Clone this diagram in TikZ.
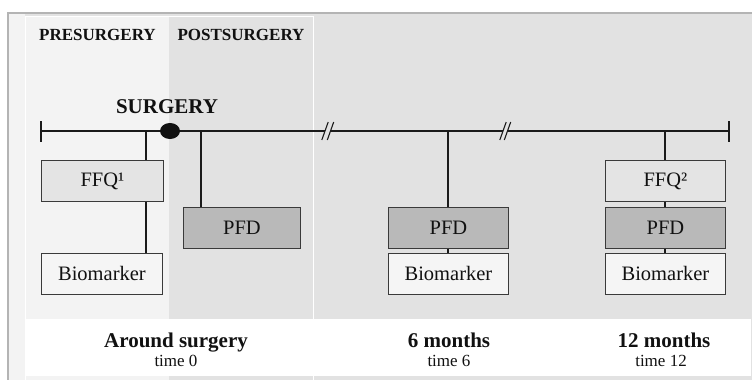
\documentclass[tikz,border=0pt]{standalone}
\usepackage{fontspec}
\setmainfont{Liberation Serif}
\usetikzlibrary{shapes.geometric}
\definecolor{frameg}{HTML}{B4B4B4}
\definecolor{lightbg}{HTML}{F3F3F3}
\definecolor{midbg}{HTML}{E2E2E2}
\definecolor{ffqfill}{HTML}{E4E4E4}
\definecolor{pfdfill}{HTML}{B9B9B9}
\definecolor{biofill}{HTML}{F5F5F5}
\definecolor{lineg}{HTML}{1A1A1A}
\definecolor{boxline}{HTML}{3A3A3A}
\definecolor{txt}{HTML}{111111}
\begin{document}
\begin{tikzpicture}[x=1pt,y=-1pt,
  box/.style={draw=boxline, line width=0.9pt, minimum height=41pt, inner sep=0pt,
    anchor=north west, text=txt, font=\fontsize{20.5}{24}\selectfont},
  ffqbox/.style={box, fill=ffqfill},
  pfdbox/.style={box, fill=pfdfill},
  biobox/.style={box, fill=biofill},
  conn/.style={draw=lineg, line width=1.1pt},
  tline/.style={draw=lineg, line width=1.3pt},
  header/.style={anchor=base, text=txt, font=\bfseries\fontsize{17}{20}\selectfont},
  period/.style={anchor=base, text=txt, font=\bfseries\fontsize{21}{24}\selectfont},
  timelbl/.style={anchor=base, text=txt, font=\fontsize{17}{20}\selectfont}
]
\useasboundingbox (0,0) rectangle (752,380);
% backgrounds
\fill[white] (0,0) rectangle (752,380);
\fill[midbg] (8,13) rectangle (752,380);
\draw[frameg, line width=1.5pt] (8,380) -- (8,13) -- (752,13);
\fill[lightbg] (9,14) rectangle (25,380);
\fill[lightbg] (25,16) rectangle (169,380);
\draw[white, line width=1pt] (25,380) -- (25,16) -- (313,16) -- (313,380);
\fill[white] (25,319) rectangle (751,376);

% headers
\node[header] (pre) at (97.5,40) {PRESURGERY};
\node[header] (post) at (241,40) {POSTSURGERY};
\node[anchor=base, text=txt, font=\bfseries\fontsize{21}{24}\selectfont] (surg) at (167,113) {SURGERY};

% timeline
\coordinate (tl) at (41,131);
\coordinate (tr) at (729,131);
\coordinate (b1a) at (325,131);
\coordinate (b1b) at (330.5,131);
\coordinate (b2a) at (503,131);
\coordinate (b2b) at (507.5,131);
\draw[tline] (tl) -- (b1a);
\draw[tline] (b1b) -- (b2a);
\draw[tline] (b2b) -- (tr);
\draw[tline] (tl) ++(0,-10) -- ++(0,21);
\draw[tline] (tr) ++(0,-10) -- ++(0,21);
\draw[draw=lineg, line width=1.1pt] (b1a) ++(-3.2,9) -- ++(6.4,-18);
\draw[draw=lineg, line width=1.1pt] (b1b) ++(-3.2,9) -- ++(6.4,-18);
\draw[draw=lineg, line width=1.1pt] (b2a) ++(-3.2,9) -- ++(6.4,-18);
\draw[draw=lineg, line width=1.1pt] (b2b) ++(-3.2,9) -- ++(6.4,-18);

% boxes
\node[ffqbox, minimum width=122pt] (ffq1) at (41,160) {FFQ¹};
\node[biobox, minimum width=121pt] (bio0) at (41,253) {Biomarker};
\node[pfdbox, minimum width=117pt] (pfd0) at (183,207) {PFD};
\node[pfdbox, minimum width=120pt] (pfd6) at (388,207) {PFD};
\node[biobox, minimum width=120pt] (bio6) at (388,253) {Biomarker};
\node[ffqbox, minimum width=120pt] (ffq2) at (605,160) {FFQ²};
\node[pfdbox, minimum width=120pt] (pfd12) at (605,207) {PFD};
\node[biobox, minimum width=120pt] (bio12) at (605,253) {Biomarker};

% connectors
\coordinate (c0) at (146,131);
\coordinate (cp) at (201,131);
\coordinate (c6) at (448,131);
\coordinate (c12) at (665,131);
\draw[conn] (c0) -- (c0 |- ffq1.north);
\draw[conn] (ffq1.south -| c0) -- (bio0.north -| c0);
\draw[conn] (cp) -- (cp |- pfd0.north);
\draw[conn] (c6) -- (c6 |- pfd6.north);
\draw[conn] (pfd6.south -| c6) -- (bio6.north -| c6);
\draw[conn] (c12) -- (c12 |- ffq2.north);
\draw[conn] (ffq2.south -| c12) -- (pfd12.north -| c12);
\draw[conn] (pfd12.south -| c12) -- (bio12.north -| c12);

% surgery dot
\node[ellipse, fill=txt, inner sep=0pt, minimum width=20pt, minimum height=16pt] (dot) at (170,131) {};

% bottom labels
\node[period] (p0) at (176,347) {Around surgery};
\node[timelbl] (t0) at (176,366) {time 0};
\node[period] (p6) at (449,347) {6 months};
\node[timelbl] (t6) at (449,366) {time 6};
\node[period] (p12) at (664,347) {12 months};
\node[timelbl] (t12) at (661,366) {time 12};
\end{tikzpicture}
\end{document}
